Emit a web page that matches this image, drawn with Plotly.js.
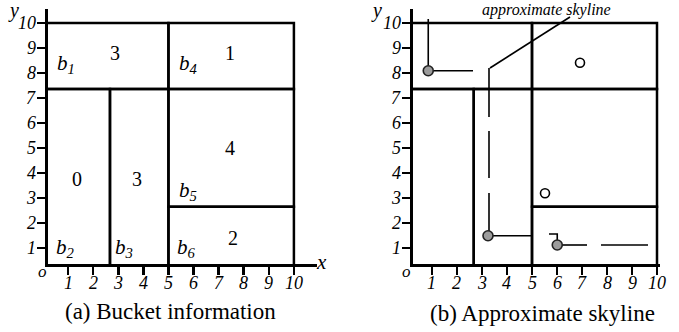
<!DOCTYPE html>
<html>
<head>
<meta charset="utf-8">
<script src="https://cdn.plot.ly/plotly-3.0.1.min.js"></script>
<style>
  html, body { margin: 0; padding: 0; background: #fff; }
  #chart { width: 679px; height: 332px; }
</style>
</head>
<body>
<div id="chart"></div>
<script>
// Buckets of the 2-D space (same partition in both panels) and the number of points in each
const bucketNames  = ['1', '2', '3', '4', '5', '6'];
const bucketX0     = [0,    0,    2.67, 5,    5,    5];
const bucketX1     = [5,    2.67, 5,    10,   10,   10];
const bucketY0     = [7.36, 0,    0,    7.36, 2.65, 0];
const bucketY1     = [10,   7.36, 7.36, 10,   7.36, 2.65];
const bucketCounts = [3,    0,    3,    1,    4,    2];

// Points on the approximate skyline and points dominated by it
const skylineX = [0.85, 3.24, 6.01];
const skylineY = [8.09, 1.49, 1.12];
const otherX = [6.92, 5.52];
const otherY = [8.41, 3.19];

// Approximate skyline staircase (null = gap between pen strokes)
const approxX = [0.85, 0.85, null, 0.85, 2.64, null, 3.28, 3.28, null, 3.28, 3.28, null, 3.28, 3.28, null,
                 3.24, 5.04, null, 5.68, 6.01, 6.01, null, 6.01, 7.2, null, 7.76, 9.64];
const approxY = [10.16, 8.09, null, 8.09, 8.09, null, 8.2, 6.24, null, 5.68, 3.8, null, 3.2, 1.49, null,
                 1.49, 1.49, null, 1.56, 1.56, 1.24, null, 1.12, 1.12, null, 1.12, 1.12];
// Pointer from the caption text to the staircase
const leaderX = [3.32, 6.52];
const leaderY = [8.2, 10.24];

const tickVals = [1, 2, 3, 4, 5, 6, 7, 8, 9, 10];
const tickText = ['1', '2', '3', '4', '5', '6', '7', '8', '9', '10'];

// Where the count and the bucket name are written inside each bucket
const countPosX = [2.87, 1.35, 3.75, 7.45, 7.45, 7.57];
const countPosY = [8.8, 3.76, 3.76, 8.8, 5.0, 1.4];
const namePosX  = [0.92, 0.88, 3.23, 5.78, 5.78, 5.7];
const namePosY  = [8.36, 1.0, 1.0, 8.36, 3.28, 1.0];

const SERIF = 'Liberation Serif';
const W = 679, H = 332;
const px = v => v / W;
const py = v => 1 - v / H;

function axisStyle(extra) {
  return Object.assign({
    showgrid: false, zeroline: false, showline: true, linecolor: '#000', linewidth: 3,
    ticks: 'outside', ticklen: 8, tickwidth: 2.5, tickcolor: '#000',
    tickmode: 'array', tickvals: tickVals, showticklabels: false,
    fixedrange: true
  }, extra);
}

// Bucket outlines for one panel
function bucketShapes(xr, yr) {
  return bucketX0.map((x0, i) => ({
    type: 'rect', xref: xr, yref: yr,
    x0: x0, x1: bucketX1[i], y0: bucketY0[i], y1: bucketY1[i],
    line: { color: '#000', width: 2.5 }, fillcolor: 'rgba(0,0,0,0)', layer: 'above'
  }));
}

const annotations = [];
bucketCounts.forEach((c, i) => {
  annotations.push({ xref: 'x', yref: 'y', x: countPosX[i], y: countPosY[i], text: String(c),
    showarrow: false, font: { family: SERIF, size: 20, color: '#000' } });
  annotations.push({ xref: 'x', yref: 'y', x: namePosX[i], y: namePosY[i],
    text: '<i>b<sub>' + bucketNames[i] + '</sub></i>',
    showarrow: false, font: { family: SERIF, size: 21, color: '#000' } });
});

// Italic tick numbers along both axes of a panel
function tickLabels(xa, ya) {
  tickVals.forEach((v, i) => {
    annotations.push({ xref: xa, yref: ya + ' domain', x: v, y: 0, text: '<i>' + tickText[i] + '</i>',
      showarrow: false, xanchor: 'center', yanchor: 'top', yshift: -7,
      font: { family: SERIF, size: 18, color: '#000' } });
    annotations.push({ xref: xa + ' domain', yref: ya, x: 0, y: v, text: '<i>' + tickText[i] + '</i>',
      showarrow: false, xanchor: 'right', yanchor: 'middle', xshift: -10,
      font: { family: SERIF, size: 18, color: '#000' } });
  });
}
tickLabels('x', 'y');
tickLabels('x2', 'y2');

function paperText(x, y, text, size, italic, anchor) {
  return { xref: 'paper', yref: 'paper', x: px(x), y: py(y), text: italic ? '<i>' + text + '</i>' : text,
    showarrow: false, xanchor: anchor || 'center', yanchor: 'middle',
    font: { family: SERIF, size: size, color: '#000' } };
}

annotations.push(
  paperText(13, 11, 'y', 20, true),
  paperText(376, 11, 'y', 20, true),
  paperText(321, 262, 'x', 21, true),
  paperText(42, 271, 'o', 17, true),
  paperText(406, 271, 'o', 17, true),
  paperText(546, 10, 'approximate skyline', 16, true),
  paperText(170, 311, '(a) Bucket information', 23, false),
  paperText(542, 313, '(b) Approximate skyline', 23, false)
);

const traces = [
  { x: approxX, y: approxY, xaxis: 'x2', yaxis: 'y2', mode: 'lines',
    line: { color: '#000', width: 1.6 }, hoverinfo: 'skip', connectgaps: false },
  { x: leaderX, y: leaderY, xaxis: 'x2', yaxis: 'y2', mode: 'lines',
    line: { color: '#000', width: 1.6 }, hoverinfo: 'skip' },
  { x: skylineX, y: skylineY, xaxis: 'x2', yaxis: 'y2', mode: 'markers',
    marker: { size: 10, color: '#9c9c9c', line: { color: '#222', width: 1.6 } }, hoverinfo: 'skip' },
  { x: otherX, y: otherY, xaxis: 'x2', yaxis: 'y2', mode: 'markers',
    marker: { size: 9, color: '#fff', line: { color: '#000', width: 1.6 } }, hoverinfo: 'skip' }
];

const layout = {
  width: W, height: H,
  margin: { l: 0, r: 0, t: 0, b: 0 },
  font: { family: SERIF, size: 16, color: '#000' },
  paper_bgcolor: '#fff', plot_bgcolor: 'rgba(0,0,0,0)',
  showlegend: false,
  xaxis:  axisStyle({ domain: [px(48), px(317)],  range: [0.2, 10.92], anchor: 'y' }),
  yaxis:  axisStyle({ domain: [py(264), py(9)],   range: [0.36, 10.56], anchor: 'x' }),
  xaxis2: axisStyle({ domain: [px(413), px(660)], range: [0.24, 10.12], anchor: 'y2' }),
  yaxis2: axisStyle({ domain: [py(264), py(9)],   range: [0.36, 10.56], anchor: 'x2' }),
  shapes: bucketShapes('x', 'y').concat(bucketShapes('x2', 'y2')),
  annotations: annotations
};

Plotly.newPlot('chart', traces, layout, { staticPlot: true, displayModeBar: false });
</script>
</body>
</html>
